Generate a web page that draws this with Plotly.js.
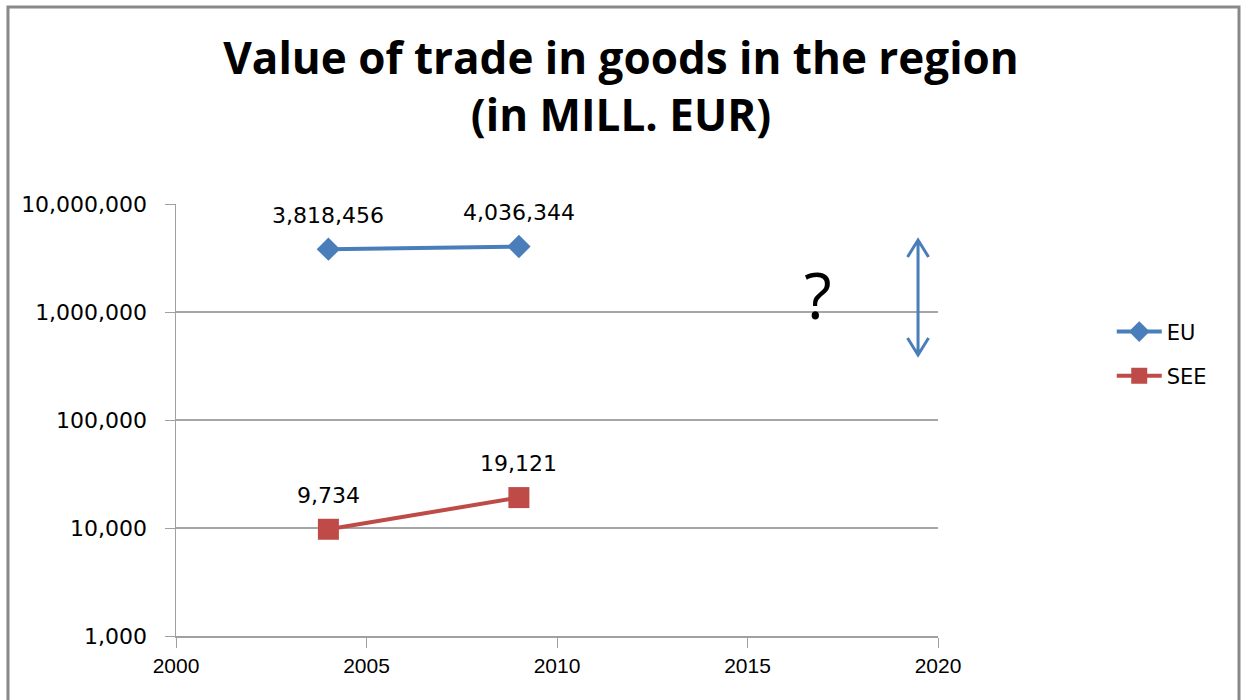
<!DOCTYPE html>
<html>
<head>
<meta charset="utf-8">
<script src="https://cdn.plot.ly/plotly-3.0.1.min.js"></script>
<style>html,body{margin:0;padding:0;background:#fff;}#chart{width:1242px;height:700px;}</style>
</head>
<body>
<div id="chart"></div>
<script>
const years = [2004, 2009];
const euValues = [3818456, 4036344];
const seeValues = [9734, 19121];
const seriesNames = ['EU', 'SEE'];
const yTickVals = [1000, 10000, 100000, 1000000, 10000000];
const yTickText = ['1,000', '10,000', '100,000', '1,000,000', '10,000,000'];
const xTickVals = [2000, 2005, 2010, 2015, 2020];

const blue = '#4a7ebb';
const red = '#be4b48';
const labelFont = {family: 'DejaVu Sans, Verdana, sans-serif', size: 22, color: '#000'};

const traces = [
  {x: years, y: euValues, name: seriesNames[0], legendgroup: 'eu', type: 'scatter', mode: 'lines+markers',
   line: {color: blue, width: 4}, marker: {symbol: 'diamond', size: 18, color: blue}},
  {x: years, y: seeValues, name: seriesNames[1], legendgroup: 'see', type: 'scatter', mode: 'lines+markers',
   line: {color: red, width: 4}, marker: {symbol: 'square', size: 21, color: red}}
];

const fmt = v => v.toLocaleString('en-US');
const annotations = [];
[euValues, seeValues].forEach(vals => {
  vals.forEach((v, i) => {
    annotations.push({x: years[i], y: Math.log10(v), xref: 'x', yref: 'y', text: fmt(v),
      showarrow: false, yanchor: 'middle', xanchor: 'center', yshift: 34, font: labelFont});
  });
});
annotations.push({x: 0.8425, y: 0.79, xref: 'paper', yref: 'paper', text: '?', showarrow: false,
  xanchor: 'center', yanchor: 'middle', font: {family: 'Open Sans, sans-serif', size: 64, color: '#000'}});

const arX = 0.9738, arTop = 0.9167, arBot = 0.6505, wx = 0.0138, wy = 0.0394;
const arrowPath = `M ${arX},${arTop} L ${arX},${arBot} M ${arX-wx},${arTop-wy} L ${arX},${arTop} L ${arX+wx},${arTop-wy} M ${arX-wx},${arBot+wy} L ${arX},${arBot} L ${arX+wx},${arBot+wy}`;

const layout = {
  width: 1242, height: 700,
  margin: {l: 176, r: 304, t: 204, b: 64},
  paper_bgcolor: '#fff', plot_bgcolor: '#fff',
  title: {text: 'Value of trade in goods in the region<br>(in MILL. EUR)', x: 0.5, xanchor: 'center', y: 0.895, yanchor: 'middle',
    font: {family: 'Open Sans, sans-serif', size: 44, color: '#000', weight: 'bold'}},
  xaxis: {range: [2000, 2020], tickvals: xTickVals, ticks: 'outside', ticklen: 10, tickcolor: '#a0a0a0',
    showline: true, linecolor: '#a0a0a0', linewidth: 1.5, showgrid: false, zeroline: false,
    tickfont: {family: 'Liberation Sans Narrow, Arial Narrow, sans-serif', size: 21, color: '#000'}},
  yaxis: {type: 'log', range: [3, 7], tickvals: yTickVals, ticktext: yTickText, ticks: 'outside', ticklen: 10,
    tickcolor: '#a0a0a0', showline: true, linecolor: '#a0a0a0', linewidth: 1.5, showgrid: true,
    gridcolor: '#a6a6a6', gridwidth: 1.5, zeroline: false, ticklabelstandoff: 13,
    tickfont: {family: 'DejaVu Sans, Verdana, sans-serif', size: 22, color: '#000'}},
  legend: {x: 1.228, y: 0.653, xanchor: 'left', yanchor: 'middle', traceorder: 'grouped', tracegroupgap: 14,
    itemwidth: 45,
    font: {family: 'DejaVu Sans, Verdana, sans-serif', size: 21, color: '#000'}, bgcolor: 'rgba(0,0,0,0)'},
  annotations: annotations,
  shapes: [
    {type: 'path', xref: 'paper', yref: 'paper', path: arrowPath, line: {color: blue, width: 3}},
    {type: 'rect', xref: 'paper', yref: 'paper', x0: -0.2205, x1: 1.395, y0: -0.2, y1: 1.456,
     line: {color: '#888', width: 3}, fillcolor: 'rgba(0,0,0,0)'}
  ],
  showlegend: true
};

Plotly.newPlot('chart', traces, layout, {displayModeBar: false, staticPlot: true});
</script>
</body>
</html>
